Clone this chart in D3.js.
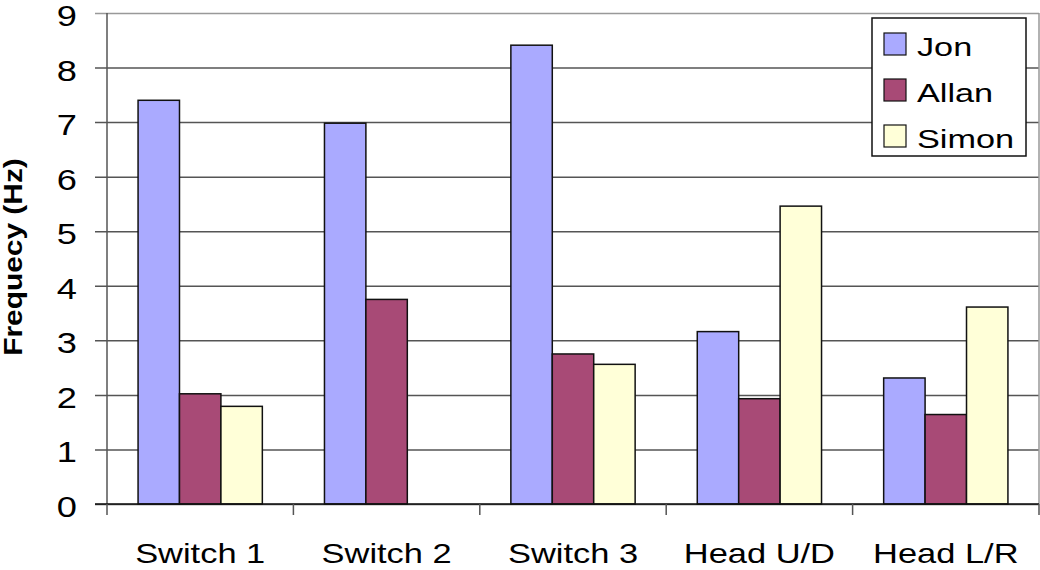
<!DOCTYPE html>
<html>
<head>
<meta charset="utf-8">
<script src="https://cdn.jsdelivr.net/npm/d3@7"></script>
<style>
  body { margin: 0; background: #fff; }
  text { font-family: "Liberation Sans", Arial, sans-serif; fill: #000; }
</style>
</head>
<body>
<div id="chart"></div>
<script>
var categories = ["Switch 1", "Switch 2", "Switch 3", "Head U/D", "Head L/R"];
var seriesNames = ["Jon", "Allan", "Simon"];
var jon = [7.40, 6.98, 8.41, 3.16, 2.31];
var allan = [2.02, 3.75, 2.75, 1.93, 1.64];
var simon = [1.79, 0, 2.56, 5.46, 3.61];
var yTicks = [0, 1, 2, 3, 4, 5, 6, 7, 8, 9];
var colors = ["#AAAAFF", "#A84A76", "#FFFFD8"];

var W = 1040, H = 570;
var plotL = 107, plotR = 1039, plotT = 13, plotB = 504;

var svg = d3.select("#chart").append("svg")
    .attr("width", W)
    .attr("height", H);

var x0 = d3.scaleBand()
    .domain(categories)
    .range([plotL, plotR])
    .paddingInner(1 / 3)
    .paddingOuter(1 / 6);

var x1 = d3.scaleBand()
    .domain(seriesNames)
    .range([0, x0.bandwidth()]);

var y = d3.scaleLinear()
    .domain([0, 9])
    .range([plotB, plotT]);

// gridlines + y ticks
var yAxis = svg.append("g")
    .attr("transform", "translate(" + plotL + ",0)")
    .call(d3.axisLeft(y).tickValues(yTicks).tickSize(12).tickFormat(""));
yAxis.select(".domain").remove();
yAxis.selectAll(".tick line")
    .attr("x1", -12)
    .attr("x2", plotR - plotL)
    .attr("stroke", function (d) { return d == 9 ? "#999" : "#555"; })
    .attr("stroke-width", 1.5);

// y tick labels (stretched like the source)
svg.selectAll(".ylab")
    .data(yTicks)
    .enter().append("text")
    .attr("class", "ylab")
    .attr("transform", function (d) { return "translate(77," + (y(d) + 13) + ") scale(1.25,1)"; })
    .attr("text-anchor", "end")
    .style("font-size", "29px")
    .text(function (d) { return d; });

// right border
svg.append("line")
    .attr("x1", plotR).attr("x2", plotR)
    .attr("y1", plotT).attr("y2", plotB)
    .attr("stroke", "#999").attr("stroke-width", 1.5);

// bars
var rows = categories.map(function (c, i) {
    return { cat: c, vals: [jon[i], allan[i], simon[i]] };
});

var groups = svg.selectAll(".grp")
    .data(rows)
    .enter().append("g")
    .attr("class", "grp")
    .attr("transform", function (d) { return "translate(" + x0(d.cat) + ",0)"; });

groups.selectAll("rect")
    .data(function (d) {
        return d.vals.map(function (v, j) { return { name: seriesNames[j], v: v, c: colors[j] }; })
            .filter(function (e) { return e.v > 0; });
    })
    .enter().append("rect")
    .attr("x", function (d) { return x1(d.name); })
    .attr("y", function (d) { return y(d.v); })
    .attr("width", x1.bandwidth())
    .attr("height", function (d) { return y(0) - y(d.v); })
    .attr("fill", function (d) { return d.c; })
    .attr("stroke", "#111")
    .attr("stroke-width", 1.5);

// y axis line
svg.append("line")
    .attr("x1", plotL).attr("x2", plotL)
    .attr("y1", plotT).attr("y2", plotB)
    .attr("stroke", "#555").attr("stroke-width", 1.5);

// x axis
svg.append("line")
    .attr("x1", 95).attr("x2", plotR)
    .attr("y1", plotB).attr("y2", plotB)
    .attr("stroke", "#111").attr("stroke-width", 1.5);

var step = x0.step();
svg.selectAll(".xtick")
    .data(d3.range(categories.length + 1))
    .enter().append("line")
    .attr("class", "xtick")
    .attr("x1", function (i) { return plotL + i * step; })
    .attr("x2", function (i) { return plotL + i * step; })
    .attr("y1", plotB).attr("y2", plotB + 11)
    .attr("stroke", "#555").attr("stroke-width", 1.5);

svg.selectAll(".xlab")
    .data(categories)
    .enter().append("text")
    .attr("class", "xlab")
    .attr("transform", function (d) { return "translate(" + (x0(d) + x0.bandwidth() / 2) + ",563) scale(1.23,1)"; })
    .attr("text-anchor", "middle")
    .style("font-size", "28px")
    .text(function (d) { return d; });

// y title
svg.append("text")
    .attr("transform", "translate(22,257) rotate(-90) scale(1.15,1)")
    .attr("text-anchor", "middle")
    .style("font-size", "26px")
    .style("font-weight", "bold")
    .text("Frequecy (Hz)");

// legend
var lg = svg.append("g").attr("transform", "translate(872,18)");
lg.append("rect")
    .attr("width", 154).attr("height", 138)
    .attr("fill", "#fff").attr("stroke", "#111").attr("stroke-width", 1.5);
var item = lg.selectAll(".li")
    .data(seriesNames)
    .enter().append("g")
    .attr("class", "li")
    .attr("transform", function (d, i) { return "translate(12," + (15 + i * 46) + ")"; });
item.append("rect")
    .attr("width", 22).attr("height", 22)
    .attr("fill", function (d, i) { return colors[i]; })
    .attr("stroke", "#111").attr("stroke-width", 1.2);
item.append("text")
    .attr("transform", "translate(33,23) scale(1.37,1)")
    .style("font-size", "25px")
    .text(function (d) { return d; });
</script>
</body>
</html>
